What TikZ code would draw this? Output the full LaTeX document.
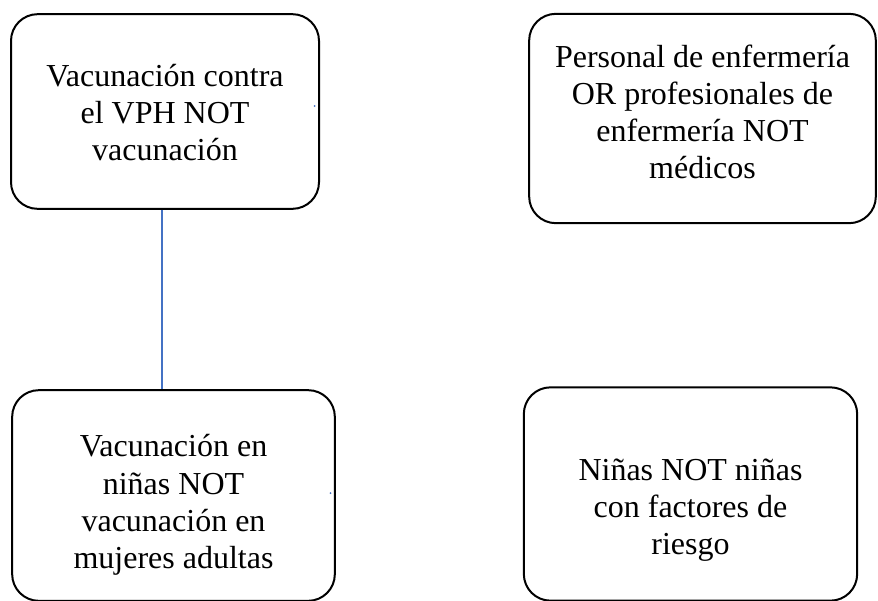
\documentclass[tikz,border=0pt]{standalone}
\usepackage{fontspec}
\setmainfont{Liberation Serif}
\usepackage{tikz}
\usetikzlibrary{positioning}

\tikzset{
  topic/.style={draw, line width=1.5pt, rounded corners=20pt, inner sep=0pt},
  words/.style={align=center, inner sep=0pt, font=\fontsize{24}{27.8}\selectfont},
  link/.style={draw=linkblue, line width=0.8pt},
}
\definecolor{linkblue}{RGB}{68,114,196}

\begin{document}
\begin{tikzpicture}[x=0.75pt, y=-0.75pt]
  \useasboundingbox (0,0) rectangle (878,600);
  % search blocks
  \node[topic, minimum width=231pt, minimum height=146pt] (vph) at (165,111.5) {};
  \node[topic, minimum width=260pt, minimum height=157pt] (enf) at (702.5,118.5) {};
  \node[topic, minimum width=242pt, minimum height=158pt] (ninas) at (173.5,495.5) {};
  \node[topic, minimum width=250pt, minimum height=160pt] (riesgo) at (690.5,494) {};
  % their texts
  \node[words] (vphtxt) at ([yshift=-0.8pt]vph.center)
    {Vacunación contra\\el VPH NOT\\vacunación};
  \node[words] (enftxt) at ([yshift=5pt]enf.center)
    {Personal de enfermería\\OR profesionales de\\enfermería NOT\\médicos};
  \node[words] (ninastxt) at ([yshift=-7pt]ninas.center)
    {Vacunación en\\niñas NOT\\vacunación en\\mujeres adultas};
  \node[words] (riesgotxt) at ([yshift=-12pt]riesgo.center)
    {Niñas NOT niñas\\con factores de\\riesgo};
  % connector
  \draw[link] ([xshift=-2.25pt]vph.south) -- ([xshift=-2.25pt]vph.south |- ninas.north);
  % stray connector ends
  \coordinate (s1) at (314.5,106);
  \coordinate (s2) at (330.5,493);
  \fill[linkblue] (s1) circle (1);
  \fill[linkblue] (s2) circle (1);
\end{tikzpicture}
\end{document}
